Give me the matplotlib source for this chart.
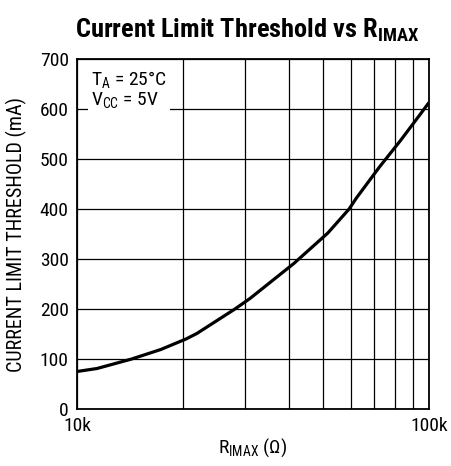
import numpy as np
import matplotlib
matplotlib.use('Agg')
import matplotlib.pyplot as plt
from matplotlib import font_manager as fm
from matplotlib.ticker import FixedLocator, NullFormatter

# Datos
r_imax = [10e3, 11.4e3, 14.3e3, 17.3e3, 20.4e3, 21.9e3, 28.1e3, 31.0e3, 41.3e3,
          51.6e3, 59.3e3, 62.2e3, 72.5e3, 83.0e3, 94.1e3, 100e3]
i_lim = [75, 81, 100, 119, 140, 151, 200, 221, 291,
         352, 400, 422, 485, 537, 588, 613]

y_ticks = [0, 100, 200, 300, 400, 500, 600, 700]
x_minor = [20e3, 30e3, 40e3, 50e3, 60e3, 70e3, 80e3, 90e3]

# Buscar una fuente condensada instalada
disponibles = set(f.name for f in fm.fontManager.ttflist)
candidatas = ['Roboto Condensed', 'Archivo Narrow', 'PT Sans Narrow',
              'Liberation Sans Narrow', 'Open Sans Condensed', 'DejaVu Sans']
fuente = [c for c in candidatas if c in disponibles][0]

plt.rcParams['font.family'] = [fuente, 'DejaVu Sans']
plt.rcParams['mathtext.fontset'] = 'custom'
plt.rcParams['mathtext.rm'] = fuente
plt.rcParams['mathtext.bf'] = fuente + ':bold'

fig = plt.figure(figsize=(4.51, 4.66), dpi=100)
ax = fig.add_axes([77/451, 1-409/466, (429-77)/451, (409-59)/466])

ax.plot(r_imax, i_lim, color='black', lw=2.3, solid_capstyle='butt', zorder=3)

ax.set_xscale('log')
ax.set_xlim(10e3, 100e3)
ax.set_ylim(0, 700)
ax.set_yticks(y_ticks)
ax.set_xticks([10e3, 100e3])
ax.set_xticklabels(['10k', '100k'])
ax.xaxis.set_minor_locator(FixedLocator(x_minor))
ax.xaxis.set_minor_formatter(NullFormatter())
ax.tick_params(axis='both', which='both', length=0, labelsize=14, pad=6)
ax.tick_params(axis='x', pad=6)

ax.grid(True, which='both', color='black', lw=0.9)
ax.set_axisbelow(True)
for s in ax.spines.values():
    s.set_linewidth(1.3)

ax.set_ylabel('CURRENT LIMIT THRESHOLD (mA)', fontsize=14.5)
ax.set_xlabel(r'R$_{\mathrm{IMAX}}$ (Ω)', fontsize=14)
ax.yaxis.set_label_coords(-0.142, 0.5)
ax.xaxis.set_label_coords(0.5, -0.078)

fig.text(0.548, 1-30/466, r'Current Limit Threshold vs $\mathbf{R_{IMAX}}$',
         fontsize=19, fontweight='bold', ha='center', va='center')

ax.text(0.04, 0.97, r'T$_{\mathrm{A}}$ = 25°C' + '\n' + r'V$_{\mathrm{CC}}$ = 5V',
        transform=ax.transAxes, fontsize=14, ha='left', va='top', linespacing=1.0,
        bbox=dict(facecolor='white', edgecolor='none', pad=2), zorder=4)

fig.savefig('out.png', dpi=100)
